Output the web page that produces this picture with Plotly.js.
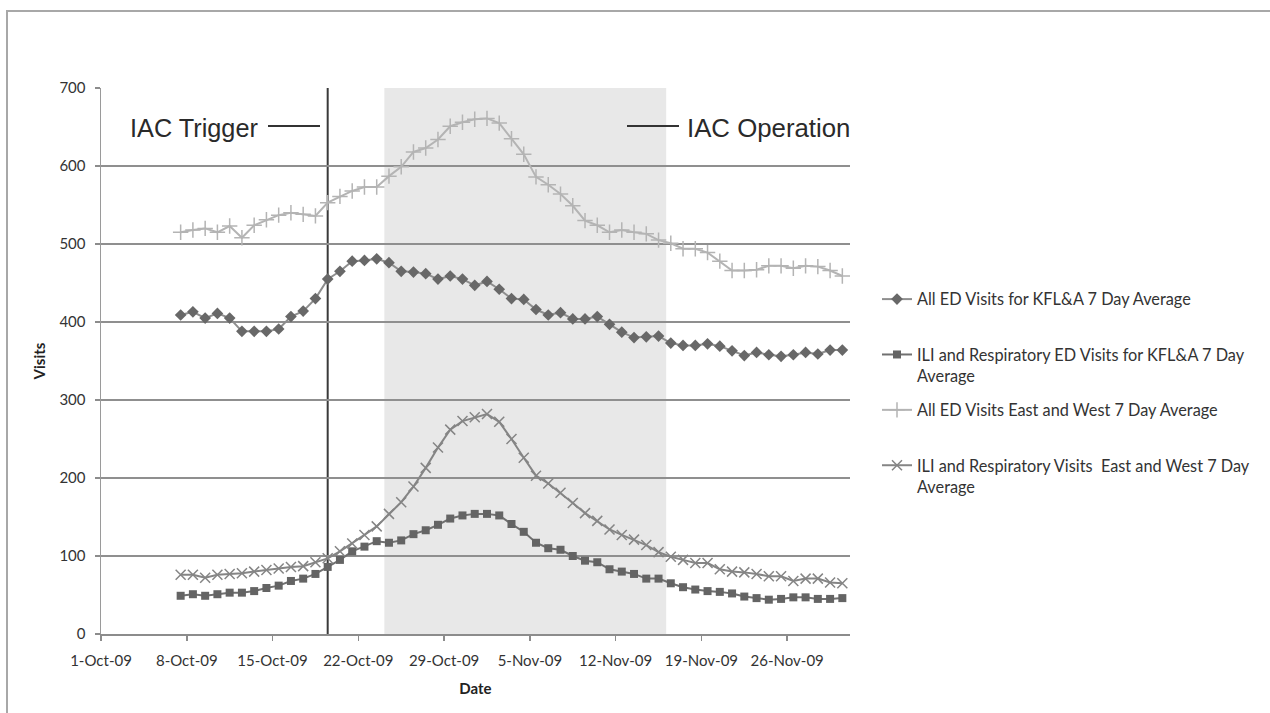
<!DOCTYPE html>
<html>
<head>
<meta charset="utf-8">
<script src="https://cdn.plot.ly/plotly-3.0.1.min.js"></script>
<style>
  html, body { margin: 0; padding: 0; background: #ffffff; }
  #wrap { position: relative; width: 1270px; height: 713px; overflow: hidden; }
  #chart { position: absolute; left: 0; top: 0; width: 1270px; height: 713px; }
  #frame { position: absolute; left: 6px; top: 10px; width: 1280px; height: 720px;
           border-left: 2px solid #a8a8a8; border-top: 2px solid #a8a8a8; pointer-events: none; }
</style>
</head>
<body>
<div id="wrap">
  <div id="chart"></div>
  <div id="frame"></div>
</div>
<script>
// ---- data ----
const dates = [
  "2009-10-07","2009-10-08","2009-10-09","2009-10-10","2009-10-11","2009-10-12","2009-10-13",
  "2009-10-14","2009-10-15","2009-10-16","2009-10-17","2009-10-18","2009-10-19","2009-10-20",
  "2009-10-21","2009-10-22","2009-10-23","2009-10-24","2009-10-25","2009-10-26","2009-10-27",
  "2009-10-28","2009-10-29","2009-10-30","2009-10-31","2009-11-01","2009-11-02","2009-11-03",
  "2009-11-04","2009-11-05","2009-11-06","2009-11-07","2009-11-08","2009-11-09","2009-11-10",
  "2009-11-11","2009-11-12","2009-11-13","2009-11-14","2009-11-15","2009-11-16","2009-11-17",
  "2009-11-18","2009-11-19","2009-11-20","2009-11-21","2009-11-22","2009-11-23","2009-11-24",
  "2009-11-25","2009-11-26","2009-11-27","2009-11-28","2009-11-29","2009-11-30"
];

const allEdKFLA = [409,413,405,411,405,388,388,388,391,407,414,430,455,465,478,479,481,476,
  465,464,462,455,459,455,447,452,442,430,429,416,409,412,404,404,407,397,387,380,381,382,
  373,370,370,372,369,363,357,361,358,356,358,361,359,364,364];

const iliKFLA = [49,51,49,51,53,53,55,59,62,68,71,77,86,95,106,112,119,117,
  120,128,133,140,148,152,154,154,152,141,131,117,110,108,100,94,92,83,80,77,71,71,
  65,60,57,55,54,52,48,46,44,45,47,47,45,45,46];

const allEdEW = [515,518,520,515,523,508,524,531,537,540,538,536,553,561,568,573,573,587,
  599,618,623,634,651,656,660,661,655,635,615,586,576,564,549,530,524,515,518,515,513,505,
  501,494,494,489,478,466,466,467,472,472,469,472,471,466,459];

const iliEW = [76,76,72,76,77,78,80,82,84,86,87,92,97,106,116,127,138,154,
  169,189,213,239,262,273,278,282,272,250,226,203,193,181,168,155,145,134,127,121,114,105,
  99,95,91,91,83,80,79,77,74,74,68,71,71,66,65];

const seriesNames = [
  "All ED Visits for KFL&A 7 Day Average<br> ",
  "ILI and Respiratory ED Visits for KFL&A 7 Day<br>Average",
  "All ED Visits East and West 7 Day Average<br> ",
  "ILI and Respiratory Visits  East and West 7 Day<br>Average"
];

const triggerDate = "2009-10-19 12:00";
const operationStart = "2009-10-24 03:00";
const operationEnd = "2009-11-16 03:00";
const xRange = ["2009-10-01", "2009-12-01 03:00"];

// Excel date axis centres each day's point in its day slot
const xPts = dates.map(d => d + " 12:00");

const FONT = "Lato, 'Open Sans', sans-serif";
const ANNO_FONT = "'Liberation Sans', Arial, sans-serif";

const traces = [
  {
    x: xPts, y: allEdKFLA, name: seriesNames[0], type: "scatter", mode: "lines+markers",
    legendgroup: "a",
    line: { color: "#8e8e8e", width: 2 },
    marker: { symbol: "diamond", size: 9, color: "#686868" }
  },
  {
    x: xPts, y: iliKFLA, name: seriesNames[1], type: "scatter", mode: "lines+markers",
    legendgroup: "b",
    line: { color: "#707070", width: 2 },
    marker: { symbol: "square", size: 8, color: "#646464" }
  },
  {
    x: xPts, y: allEdEW, name: seriesNames[2], type: "scatter", mode: "lines+markers",
    legendgroup: "c",
    line: { color: "#b4b4b4", width: 2 },
    marker: { symbol: "cross-thin-open", size: 11, line: { color: "#a2a2a2", width: 1.5 } }
  },
  {
    x: xPts, y: iliEW, name: seriesNames[3], type: "scatter", mode: "lines+markers",
    legendgroup: "d",
    line: { color: "#858585", width: 2 },
    marker: { symbol: "x-thin-open", size: 10, line: { color: "#8c8c8c", width: 1.5 } }
  }
];

// plot area in pixels: left 101, right 850, top 88, bottom 634
const L = 101, R = 850, T = 88, B = 634;
const W = R - L, H = B - T;
const px = v => (v - L) / W;
const py = v => (B - v) / H;

const layout = {
  width: 1270, height: 713,
  margin: { l: L, r: 1270 - R, t: T, b: 713 - B },
  paper_bgcolor: "#ffffff", plot_bgcolor: "rgba(0,0,0,0)",
  font: { family: FONT, color: "#333333", size: 15 },
  showlegend: true,
  legend: {
    x: px(877), xanchor: "left", y: py(282), yanchor: "top",
    font: { family: FONT, size: 16.3, color: "#333333" },
    valign: "top", tracegroupgap: 10, traceorder: "grouped",
    bgcolor: "rgba(0,0,0,0)"
  },
  xaxis: {
    type: "date", range: xRange,
    tick0: "2009-10-01", dtick: 7 * 24 * 3600 * 1000,
    tickformat: "%-d-%b-%y",
    ticks: "outside", ticklen: 5, tickcolor: "#8c8c8c", tickwidth: 1.5,
    ticklabelstandoff: 7,
    showgrid: false, zeroline: false,
    showline: true, linecolor: "#8c8c8c", linewidth: 1.5,
    tickfont: { family: FONT, size: 15, color: "#333333" },
    title: { text: "<b>Date</b>", font: { family: FONT, size: 15, color: "#222222" }, standoff: 16 }
  },
  yaxis: {
    range: [0, 700], dtick: 100, tick0: 0,
    ticks: "outside", ticklen: 5, tickcolor: "#8c8c8c", tickwidth: 1.5,
    ticklabelstandoff: 6,
    showgrid: true, gridcolor: "#8f8f8f", gridwidth: 1.5,
    zeroline: false,
    showline: true, linecolor: "#9a9a9a", linewidth: 1.5,
    tickfont: { family: FONT, size: 15, color: "#333333" },
    title: { text: "<b>Visits</b>", font: { family: FONT, size: 15, color: "#222222" }, standoff: 10 }
  },
  shapes: [
    { type: "rect", xref: "x", yref: "paper", x0: operationStart, x1: operationEnd, y0: 0, y1: 1,
      fillcolor: "#e8e8e8", line: { width: 0 }, layer: "below" },
    { type: "line", xref: "x", yref: "paper", x0: triggerDate, x1: triggerDate, y0: 0, y1: 1,
      line: { color: "#3a3a3a", width: 2 }, layer: "between" },
    { type: "line", xref: "paper", yref: "paper", x0: px(268), x1: px(320), y0: py(126), y1: py(126),
      line: { color: "#333333", width: 2 } },
    { type: "line", xref: "paper", yref: "paper", x0: px(627), x1: px(679), y0: py(126), y1: py(126),
      line: { color: "#333333", width: 2 } }
  ],
  annotations: [
    { xref: "paper", yref: "paper", x: px(260), y: py(128), xanchor: "right", yanchor: "middle",
      text: "IAC Trigger", showarrow: false,
      font: { family: ANNO_FONT, size: 25.3, color: "#2a2a2a" } },
    { xref: "paper", yref: "paper", x: px(685), y: py(128), xanchor: "left", yanchor: "middle",
      text: "IAC Operation", showarrow: false,
      font: { family: ANNO_FONT, size: 25.8, color: "#2a2a2a" } }
  ]
};

Plotly.newPlot("chart", traces, layout, { displayModeBar: false, staticPlot: true });
</script>
</body>
</html>
